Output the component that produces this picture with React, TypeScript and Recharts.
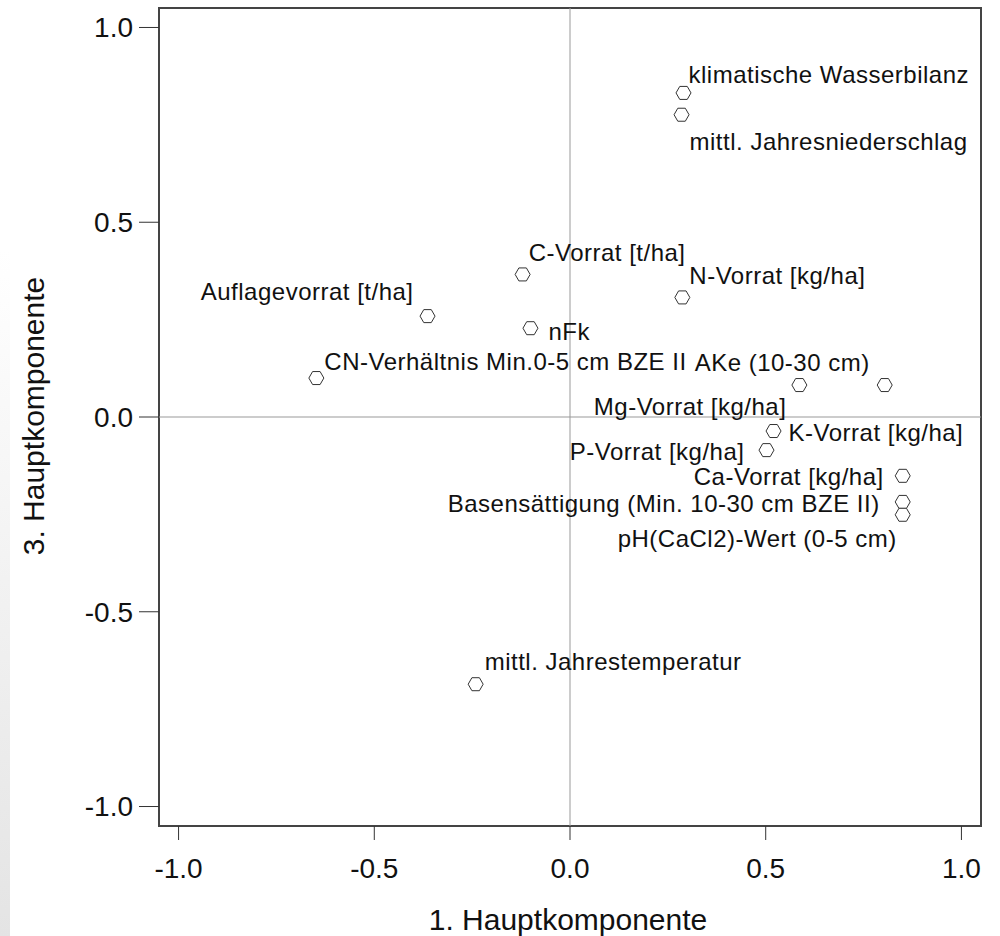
import React from 'react'
import { ScatterChart, Scatter, XAxis, YAxis, ReferenceLine, ReferenceArea } from 'recharts'

// Variable names (loadings plot, 1st vs 3rd principal component)
const names = [
  'klimatische Wasserbilanz',
  'mittl. Jahresniederschlag',
  'C-Vorrat [t/ha]',
  'N-Vorrat [kg/ha]',
  'Auflagevorrat [t/ha]',
  'nFk',
  'CN-Verhältnis Min.0-5 cm BZE II',
  'AKe (10-30 cm)',
  'Mg-Vorrat [kg/ha]',
  'K-Vorrat [kg/ha]',
  'P-Vorrat [kg/ha]',
  'Ca-Vorrat [kg/ha]',
  'Basensättigung (Min. 10-30 cm BZE II)',
  'pH(CaCl2)-Wert (0-5 cm)',
  'mittl. Jahrestemperatur',
]

// 1. Hauptkomponente
const pc1 = [0.29, 0.285, -0.121, 0.287, -0.364, -0.101, -0.648, 0.804, 0.586, 0.52, 0.502, 0.85, 0.85, 0.85, -0.241]
// 3. Hauptkomponente
const pc3 = [0.832, 0.776, 0.366, 0.307, 0.259, 0.228, 0.1, 0.082, 0.082, -0.036, -0.085, -0.151, -0.218, -0.251, -0.686]

const ticks = [-1.0, -0.5, 0.0, 0.5, 1.0]

// label placement next to each marker: [anchor, dx, dy]
const labelPlacement: Array<['start' | 'end', number, number]> = [
  ['start', 5, -18],
  ['start', 8, 27],
  ['start', 6, -22],
  ['start', 7, -22],
  ['end', -14, -25],
  ['start', 18, 3],
  ['start', 8, -17],
  ['end', -15, -23],
  ['end', -13, 21],
  ['start', 15, 1],
  ['end', -22, 1],
  ['end', -19, 1],
  ['end', -23, 2],
  ['end', -6, 24],
  ['start', 9, -23],
]

const data = names.map((name, i) => ({ name, x: pc1[i], y: pc3[i] }))

const FONT = '"Liberation Sans", Arial, sans-serif'

const Hexagon = (props: any) => {
  const { cx, cy, payload } = props
  if (cx == null || cy == null) return null
  const i = names.indexOf(payload.name)
  const [anchor, dx, dy] = labelPlacement[i]
  const r = 7.5
  const h = 6.5
  const d = `M${cx - r},${cy} L${cx - r / 2},${cy - h} L${cx + r / 2},${cy - h} L${cx + r},${cy} L${cx + r / 2},${cy + h} L${cx - r / 2},${cy + h} Z`
  return (
    <g>
      <path d={d} fill="#fff" stroke="#333" strokeWidth={1} />
      <text
        x={cx + dx}
        y={cy + dy}
        textAnchor={anchor}
        dominantBaseline="central"
        fontFamily={FONT}
        fontSize={24}
        letterSpacing={0.5}
        fill="#111"
      >
        {payload.name}
      </text>
    </g>
  )
}

const YTitle = () => (
  <text
    x={33}
    y={416}
    transform="rotate(-90 33 416)"
    textAnchor="middle"
    dominantBaseline="central"
    fontFamily={FONT}
    fontSize={30}
    fill="#111"
  >
    3. Hauptkomponente
  </text>
)

const XTitle = () => (
  <text x={568} y={930} textAnchor="middle" fontFamily={FONT} fontSize={30} fill="#111">
    1. Hauptkomponente
  </text>
)

export default function App() {
  return (
    <div style={{ position: 'absolute', left: 0, top: 0, width: 1000, height: 936, background: '#fff' }}>
      <div
        style={{
          position: 'absolute',
          left: 0,
          top: 250,
          width: 10,
          height: 686,
          background: 'linear-gradient(to bottom, #ffffff, #e4e4e4)',
        }}
      />
      <ScatterChart width={1000} height={936} margin={{ top: 8, right: 19, bottom: 0, left: 0 }}>
        <XAxis
          type="number"
          dataKey="x"
          domain={[-1.05, 1.05]}
          ticks={ticks}
          tickFormatter={(v: number) => v.toFixed(1)}
          height={110}
          axisLine={false}
          tickSize={14}
          tickMargin={18}
          tickLine={{ stroke: '#333', strokeWidth: 1 }}
          tick={{ fill: '#111', fontSize: 28, fontFamily: FONT }}
          label={<XTitle />}
        />
        <YAxis
          type="number"
          dataKey="y"
          domain={[-1.05, 1.05]}
          ticks={ticks}
          tickFormatter={(v: number) => v.toFixed(1)}
          width={159}
          axisLine={false}
          tickSize={20}
          tickMargin={6}
          tickLine={{ stroke: '#333', strokeWidth: 1 }}
          tick={{ fill: '#111', fontSize: 28, fontFamily: FONT }}
          label={<YTitle />}
        />
        <ReferenceArea x1={-1.05} x2={1.05} y1={-1.05} y2={1.05} fill="none" stroke="#444" strokeWidth={2} />
        <ReferenceLine x={0} stroke="#999" strokeWidth={1} />
        <ReferenceLine y={0} stroke="#999" strokeWidth={1} />
        <Scatter data={data} shape={Hexagon} isAnimationActive={false} />
      </ScatterChart>
    </div>
  )
}
